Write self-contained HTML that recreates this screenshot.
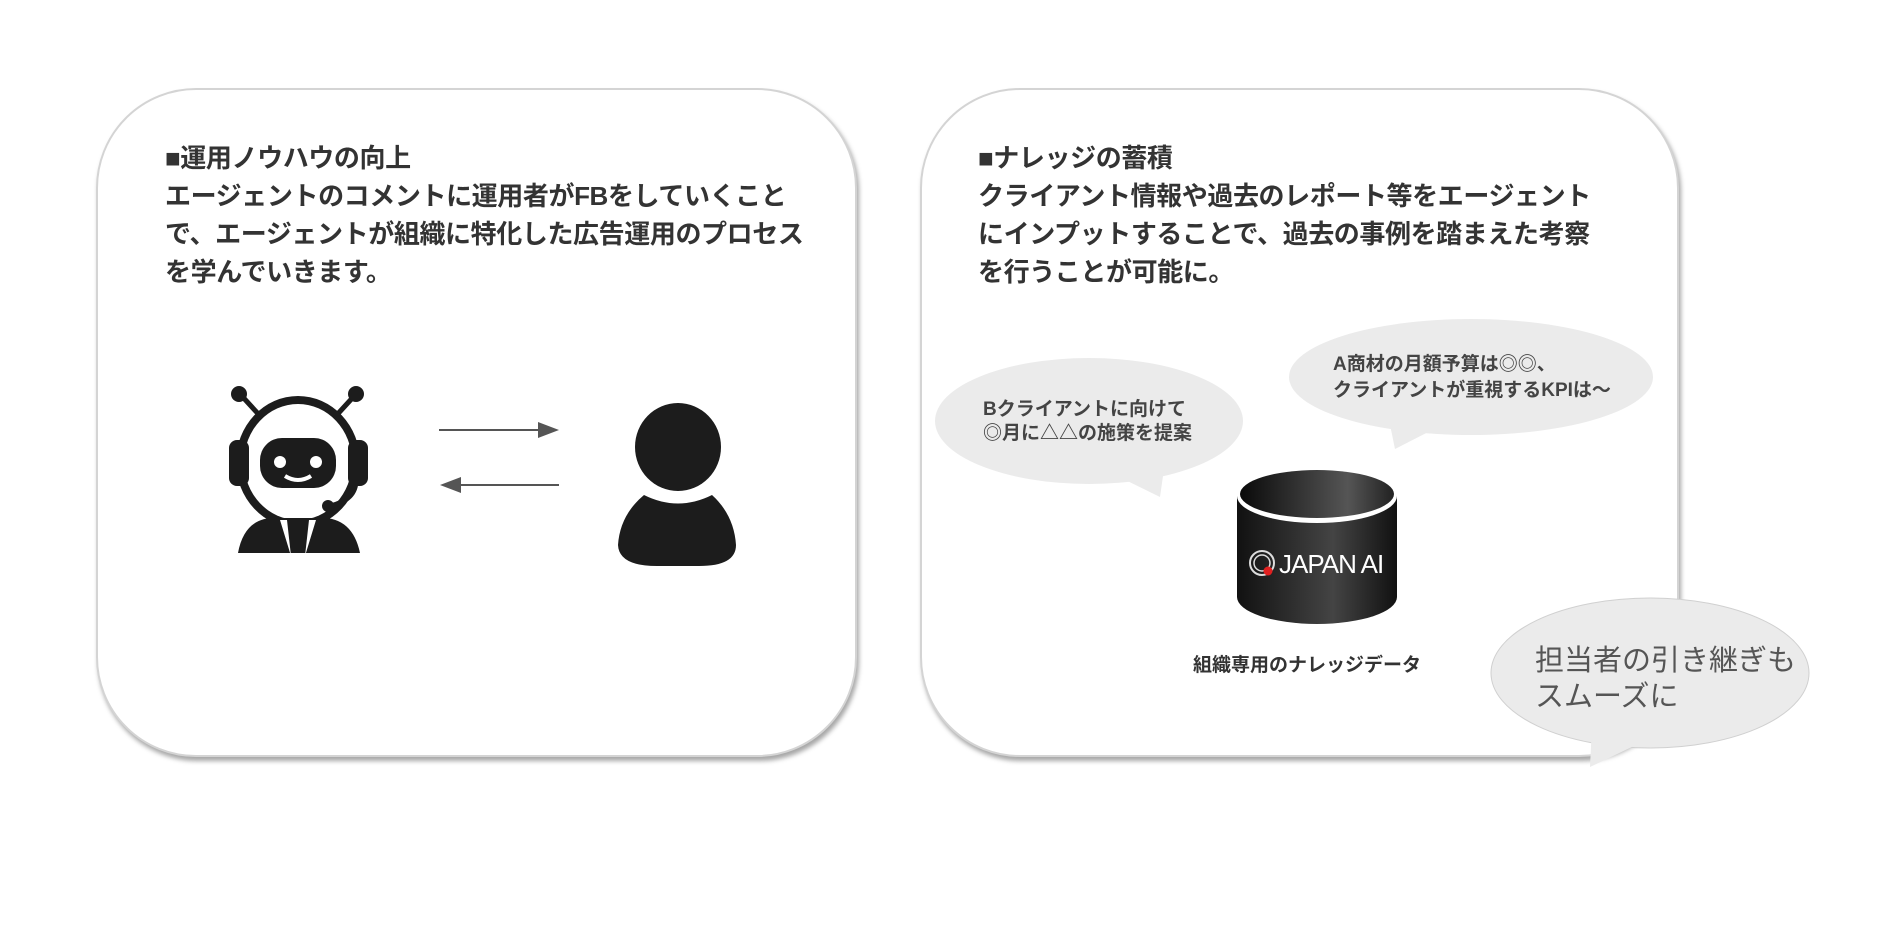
<!DOCTYPE html>
<html><head><meta charset="utf-8"><style>
html,body{margin:0;padding:0;background:#fff;}
body{width:1877px;height:943px;position:relative;overflow:hidden;font-family:"Liberation Sans","Noto Sans CJK JP",sans-serif;}
.card{position:absolute;background:#fff;border:2px solid #d4d4d4;border-radius:100px;box-shadow:2px 4px 5px rgba(0,0,0,0.35);}
.t{position:absolute;font-weight:bold;color:#333;font-size:26px;line-height:38px;white-space:nowrap;letter-spacing:-0.4px;}
svg{position:absolute;left:0;top:0;}
</style></head><body>
<div class="card" style="left:96px;top:88px;width:757px;height:665px;"></div>
<div class="card" style="left:920px;top:88px;width:755px;height:665px;"></div>
<div class="t" style="left:165px;top:139px;">■運用ノウハウの向上<br>エージェントのコメントに運用者がFBをしていくこと<br>で、エージェントが組織に特化した広告運用のプロセス<br>を学んでいきます。</div>
<div class="t" style="left:978px;top:139px;">■ナレッジの蓄積<br>クライアント情報や過去のレポート等をエージェント<br>にインプットすることで、過去の事例を踏まえた考察<br>を行うことが可能に。</div>
<svg width="1877" height="943" viewBox="0 0 1877 943">
<defs>
<linearGradient id="cg" x1="0" x2="1"><stop offset="0" stop-color="#111"/><stop offset="0.6" stop-color="#444"/><stop offset="1" stop-color="#111"/></linearGradient>
<linearGradient id="tg" x1="0" x2="1"><stop offset="0" stop-color="#0a0a0a"/><stop offset="0.7" stop-color="#555"/><stop offset="1" stop-color="#222"/></linearGradient>
</defs>
<g fill="#1c1c1c">
<line x1="240" y1="394" x2="262" y2="418" stroke="#1c1c1c" stroke-width="5"/>
<line x1="356" y1="394" x2="334" y2="418" stroke="#1c1c1c" stroke-width="5"/>
<circle cx="239" cy="394" r="8"/><circle cx="356" cy="394" r="8"/>
<ellipse cx="298" cy="462" rx="62" ry="66"/>
<ellipse cx="298" cy="462" rx="54" ry="58" fill="#fff"/>
<rect x="229" y="440" width="20" height="46" rx="8"/>
<rect x="348" y="440" width="20" height="46" rx="8"/>
<rect x="260" y="438" width="76" height="50" rx="22"/>
<circle cx="280" cy="462" r="6" fill="#fff"/><circle cx="316" cy="462" r="6" fill="#fff"/>
<path d="M285 476 Q298 484 311 476" stroke="#fff" stroke-width="4" fill="none"/>
<path d="M356 480 Q356 500 330 506" stroke="#1c1c1c" stroke-width="5" fill="none"/>
<circle cx="328" cy="506" r="6"/>
<path d="M238 553 Q245 515 280 518 L316 518 Q352 515 360 553 Z"/>
<path d="M280 520 L291 556 L287 520 Z M316 520 L305 556 L309 520 Z" fill="#fff"/>
</g>
<line x1="439" y1="430" x2="540" y2="430" stroke="#555" stroke-width="2"/>
<polygon points="559,430 538,422 538,438" fill="#555"/>
<line x1="459" y1="485" x2="559" y2="485" stroke="#555" stroke-width="2"/>
<polygon points="440,485 461,477 461,493" fill="#555"/>
<g fill="#1c1c1c">
<ellipse cx="678" cy="447" rx="43" ry="44"/>
<path d="M644 495 Q678 512 712 495 Q734 515 736 545 Q736 566 699 566 L657 566 Q619 566 618 545 Q620 515 644 495 Z"/>
</g>
<g fill="#ebebeb">
<ellipse cx="1089" cy="421" rx="154" ry="63"/>
<polygon points="1105,470 1160,497 1166,455"/>
<ellipse cx="1471" cy="377" rx="182" ry="58"/>
<polygon points="1395,449 1436,428 1388,415"/>
</g>
<ellipse cx="1650" cy="673" rx="159" ry="75" fill="#ebebeb" stroke="#d0d0d0" stroke-width="1"/>
<polygon points="1590,767 1636,745 1592,725" fill="#ebebeb"/>
<g font-family="Liberation Sans,Noto Sans CJK JP,sans-serif" font-weight="bold" font-size="19" fill="#444">
<text x="983" y="415">Bクライアントに向けて</text>
<text x="983" y="439">◎月に△△の施策を提案</text>
<text x="1333" y="370">A商材の月額予算は◎◎、</text>
<text x="1333" y="396">クライアントが重視するKPIは〜</text>
<text x="1193" y="671" fill="#333">組織専用のナレッジデータ</text>
</g>
<g font-family="Liberation Sans,Noto Sans CJK JP,sans-serif" font-size="29" fill="#555">
<text x="1535" y="670">担当者の引き継ぎも</text>
<text x="1535" y="706">スムーズに</text>
</g>
<path d="M1237 496 L1237 597 A80 27 0 0 0 1397 597 L1397 496 Z" fill="url(#cg)"/>
<ellipse cx="1317" cy="496" rx="80" ry="27" fill="#fff"/>
<ellipse cx="1317" cy="494" rx="77" ry="24" fill="url(#tg)"/>
<circle cx="1262" cy="563" r="12" fill="none" stroke="#ddd" stroke-width="2"/>
<circle cx="1262" cy="563" r="8" fill="none" stroke="#ddd" stroke-width="1.5"/>
<circle cx="1268" cy="571" r="4.5" fill="#e02020"/>
<text x="1279" y="573" font-family="Liberation Sans,sans-serif" font-size="26" fill="#fff" letter-spacing="-1">JAPAN AI</text>
</svg>
</body></html>
